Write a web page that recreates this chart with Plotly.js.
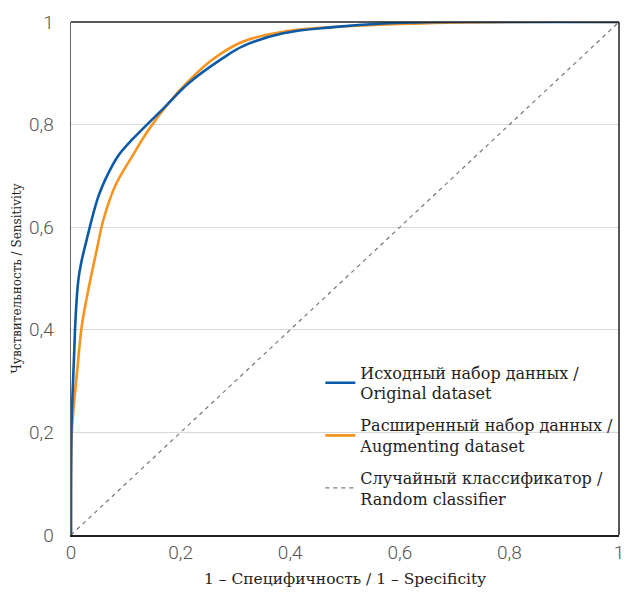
<!DOCTYPE html>
<html><head><meta charset="utf-8">
<script src="https://cdn.plot.ly/plotly-3.0.1.min.js"></script>
<style>body{margin:0;padding:0;background:#fff}#chart{width:625px;height:592px}</style>
</head><body><div id="chart"></div>
<script>
const fprOrig = [0, 0.001, 0.0024, 0.006, 0.0085, 0.0134, 0.0195, 0.0255, 0.05, 0.068, 0.086, 0.111, 0.135, 0.172, 0.214, 0.275, 0.314, 0.387, 0.479, 0.57, 0.7, 0.85, 1];
const tprOrig = [0, 0.218, 0.263, 0.36, 0.426, 0.497, 0.535, 0.562, 0.66, 0.705, 0.739, 0.77, 0.796, 0.835, 0.88, 0.928, 0.953, 0.978, 0.99, 0.997, 1, 1, 1];
const fprAug = [0, 0.001, 0.006, 0.012, 0.0195, 0.0316, 0.047, 0.059, 0.08, 0.111, 0.141, 0.178, 0.214, 0.257, 0.314, 0.387, 0.448, 0.6, 0.8, 1];
const tprAug = [0, 0.19, 0.263, 0.328, 0.406, 0.478, 0.556, 0.614, 0.679, 0.737, 0.789, 0.842, 0.884, 0.926, 0.962, 0.981, 0.988, 0.996, 1, 1];
const randX = [0, 1];
const randY = [0, 1];
const names = ['Исходный набор данных /<br>Original dataset', 'Расширенный набор данных /<br>Augmenting dataset', 'Случайный классификатор /<br>Random classifier'];
const tickVals = [0, 0.2, 0.4, 0.6, 0.8, 1];

const serif = 'DejaVu Serif, serif';
const tickFont = {family: 'Roboto, sans-serif', size: 19, color: '#555', weight: 300};
const traces = [
  {x: fprOrig, y: tprOrig, name: names[0], legendgroup: 'a', legendrank: 1, mode: 'lines', line: {color: '#0b5aa8', width: 2.6, shape: 'spline', smoothing: 1.1}},
  {x: fprAug, y: tprAug, name: names[1], legendgroup: 'b', legendrank: 2, mode: 'lines', line: {color: '#f7931e', width: 2.6, shape: 'spline', smoothing: 1.1}},
  {x: randX, y: randY, name: names[2], legendgroup: 'c', legendrank: 3, mode: 'lines', line: {color: '#777', width: 1.2, dash: '4px,4px'}}
];
const ordered = [traces[2], traces[1], traces[0]];
const layout = {
  width: 625, height: 592,
  margin: {l: 71, r: 6, t: 22, b: 57, autoexpand: false},
  separators: ', ',
  paper_bgcolor: '#fff', plot_bgcolor: '#fff',
  showlegend: true,
  legend: {x: 0.455, y: 0.35, xanchor: 'left', yanchor: 'top', traceorder: 'grouped', tracegroupgap: 8,
           font: {family: serif, size: 16, color: '#222'}, bgcolor: 'rgba(0,0,0,0)'},
  xaxis: {range: [0, 1], tickvals: tickVals, showgrid: false, zeroline: false,
          showline: true, linecolor: '#222', linewidth: 1.5,
          ticks: '', ticklabelstandoff: 0,
          tickfont: tickFont,
          title: {text: '1 – Специфичность / 1 – Specificity', font: {family: serif, size: 15.5, color: '#222'}, standoff: 10}},
  yaxis: {range: [0, 1], tickvals: tickVals, showgrid: true, gridcolor: '#d9d9d9', gridwidth: 1, zeroline: false,
          showline: true, linecolor: '#666', linewidth: 1.5,
          ticks: '', ticklabelstandoff: 12,
          tickfont: tickFont,
          title: {text: 'Чувствительность / Sensitivity', font: {family: serif, size: 12, color: '#222'}, standoff: 5}},
  shapes: [
    {type: 'line', xref: 'paper', yref: 'paper', x0: 0, x1: 1, y0: 1, y1: 1, line: {color: '#222', width: 1.5}},
    {type: 'line', xref: 'paper', yref: 'paper', x0: 1, x1: 1, y0: 0, y1: 1, line: {color: '#222', width: 1.5}}
  ]
};
Plotly.newPlot('chart', ordered, layout, {displayModeBar: false, staticPlot: true});
</script></body></html>
